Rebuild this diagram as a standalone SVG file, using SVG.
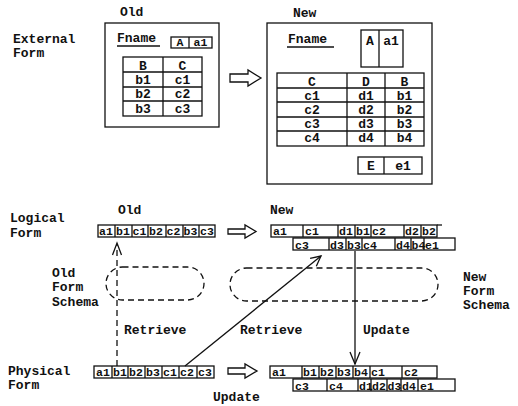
<svg xmlns="http://www.w3.org/2000/svg" width="518" height="406" viewBox="0 0 518 406">
<style>
text{font-family:"Liberation Mono","DejaVu Sans Mono",monospace;font-weight:bold;fill:#111}
.l{font-size:13px}
.r{font-size:11.5px}
.c{text-anchor:middle}
.b{fill:#fff;stroke:#111;stroke-width:1.3}
.ln{stroke:#111;stroke-width:1.3;fill:none}
.d{stroke:#111;stroke-width:1.3;fill:none;stroke-dasharray:6 4}
.h{fill:#fff;stroke:#111;stroke-width:1.3;stroke-linejoin:miter}
</style>
<rect width="518" height="406" fill="#fff"/>

<g id="labels">
<text class="l" x="13" y="43">External</text>
<text class="l" x="13" y="57">Form</text>
<text class="l" x="120" y="16">Old</text>
<text class="l" x="293" y="17">New</text>
<text class="l" x="10" y="222">Logical</text>
<text class="l" x="10" y="237">Form</text>
<text class="l" x="118" y="214">Old</text>
<text class="l" x="270" y="214">New</text>
<text class="l" x="8" y="375">Physical</text>
<text class="l" x="8" y="389">Form</text>
<text class="l" x="52" y="277">Old</text>
<text class="l" x="52" y="291">Form</text>
<text class="l" x="52" y="306">Schema</text>
<text class="l" x="463" y="281">New</text>
<text class="l" x="463" y="295">Form</text>
<text class="l" x="463" y="309">Schema</text>
</g>

<g id="ext-old">
<rect class="b" x="105" y="23" width="114" height="104"/>
<text class="l" x="117" y="42" font-size="14">Fname</text>
<line class="ln" x1="117" y1="46" x2="160" y2="46"/>
<rect class="b" x="171" y="37" width="41" height="11"/>
<line class="ln" x1="189" y1="37" x2="189" y2="48"/>
<text class="r c" x="180" y="46">A</text>
<text class="r c" x="200.5" y="46">a1</text>
<rect class="b" x="123" y="57" width="79" height="59"/>
<path class="ln" d="M163,57V116M123,72H202M123,87H202M123,101H202"/>
<text class="l c" x="143" y="70">B</text><text class="l c" x="182.5" y="70">C</text>
<text class="l c" x="143" y="84">b1</text><text class="l c" x="182.5" y="84">c1</text>
<text class="l c" x="143" y="98">b2</text><text class="l c" x="182.5" y="98">c2</text>
<text class="l c" x="143" y="113">b3</text><text class="l c" x="182.5" y="113">c3</text>
</g>

<g id="ext-new">
<rect class="b" x="267" y="23" width="165" height="161"/>
<text class="l" x="288" y="43" font-size="14">Fname</text>
<line class="ln" x1="287" y1="47" x2="334" y2="47"/>
<rect class="b" x="361" y="30" width="42" height="37"/>
<line class="ln" x1="379" y1="30" x2="379" y2="67"/>
<text class="l c" x="370" y="45">A</text>
<text class="l c" x="391" y="45">a1</text>
<rect class="b" x="277" y="73" width="147" height="73"/>
<path class="ln" d="M347,73V146M385,73V146M277,88H424M277,102H424M277,117H424M277,131H424"/>
<text class="l c" x="312" y="86">C</text><text class="l c" x="366" y="86">D</text><text class="l c" x="404.5" y="86">B</text>
<text class="l c" x="312" y="100">c1</text><text class="l c" x="366" y="100">d1</text><text class="l c" x="404.5" y="100">b1</text>
<text class="l c" x="312" y="114">c2</text><text class="l c" x="366" y="114">d2</text><text class="l c" x="404.5" y="114">b2</text>
<text class="l c" x="312" y="128">c3</text><text class="l c" x="366" y="128">d3</text><text class="l c" x="404.5" y="128">b3</text>
<text class="l c" x="312" y="142">c4</text><text class="l c" x="366" y="142">d4</text><text class="l c" x="404.5" y="142">b4</text>
<rect class="b" x="358" y="157" width="64" height="17"/>
<line class="ln" x1="384" y1="157" x2="384" y2="174"/>
<text class="l c" x="371" y="170">E</text>
<text class="l c" x="403" y="170">e1</text>
</g>

<g id="log-old">
<rect class="b" x="98" y="225" width="117" height="12"/>
<path class="ln" d="M115,225V237M132,225V237M148,225V237M166,225V237M183,225V237M199,225V237"/>
<text class="r" x="99" y="235">a1</text><text class="r" x="116" y="235">b1</text><text class="r" x="132.5" y="235">c1</text>
<text class="r" x="149" y="235">b2</text><text class="r" x="166.5" y="235">c2</text><text class="r" x="183.5" y="235">b3</text>
<text class="r" x="200" y="235">c3</text>
</g>

<g id="log-new">
<rect class="b" x="271" y="225" width="166" height="12"/>
<line class="ln" x1="437" y1="225" x2="442" y2="225"/>
<path class="ln" d="M303,225V237M338,225V237M355,225V237M371,225V237M404,225V237M421,225V237"/>
<text class="r" x="273" y="235">a1</text><text class="r" x="305" y="235">c1</text><text class="r" x="339" y="235">d1</text>
<text class="r" x="356" y="235">b1</text><text class="r" x="372" y="235">c2</text><text class="r" x="405" y="235">d2</text>
<text class="r" x="422" y="235">b2</text>
<rect class="b" x="293" y="238" width="162" height="12"/>
<path class="ln" d="M329,238V250M346,238V250M362,238V250M395,238V250M411,238V250M424,238V250"/>
<text class="r" x="295" y="248.5">c3</text><text class="r" x="330" y="248.5">d3</text><text class="r" x="347" y="248.5">b3</text>
<text class="r" x="363" y="248.5">c4</text><text class="r" x="396" y="248.5">d4</text><text class="r" x="411.5" y="248.5">b4</text>
<text class="r" x="425" y="248.5">e1</text>
</g>

<g id="schema-old">
<rect class="d" x="106" y="267" width="98" height="33" rx="16.5"/>
</g>
<g id="schema-new">
<rect class="d" x="230" y="268" width="208" height="33" rx="16.5"/>
</g>

<g id="phys-old">
<rect class="b" x="94" y="366" width="120" height="12"/>
<path class="ln" d="M112,366V378M128,366V378M145,366V378M162,366V378M179,366V378M197,366V378"/>
<text class="r" x="96" y="376">a1</text><text class="r" x="113" y="376">b1</text><text class="r" x="129" y="376">b2</text>
<text class="r" x="146" y="376">b3</text><text class="r" x="163" y="376">c1</text><text class="r" x="180" y="376">c2</text>
<text class="r" x="198" y="376">c3</text>
</g>

<g id="phys-new">
<rect class="b" x="270" y="366" width="167" height="12"/>
<path class="ln" d="M302,366V378M319,366V378M336,366V378M353,366V378M370,366V378M402,366V378"/>
<text class="r" x="272" y="376">a1</text><text class="r" x="303" y="376">b1</text><text class="r" x="320" y="376">b2</text>
<text class="r" x="337" y="376">b3</text><text class="r" x="354" y="376">b4</text><text class="r" x="371" y="376">c1</text>
<text class="r" x="404" y="376">c2</text>
<rect class="b" x="293" y="379" width="162" height="12"/>
<path class="ln" d="M327,379V391M358,379V391M371,379V391M387,379V391M401,379V391M418,379V391"/>
<text class="r" x="295" y="389.5">c3</text><text class="r" x="329" y="389.5">c4</text><text class="r" x="359" y="389.5">d1</text>
<text class="r" x="372" y="389.5">d2</text><text class="r" x="387.5" y="389.5">d3</text><text class="r" x="402" y="389.5">d4</text>
<text class="r" x="420" y="389.5">e1</text>
</g>

<g id="connectors">
<path class="h" d="M230,74H248V70L261,78L248,86V82H230Z"/>
<path class="h" d="M228,229H245V225L256,231.5L245,238V234H228Z"/>
<path class="h" d="M228,368H245V364L257,371L245,378V374H228Z"/>
<line class="d" x1="117" y1="366" x2="117" y2="245"/>
<polyline class="ln" points="112.5,255 117,243 121.5,255"/>
<line class="ln" x1="185" y1="366" x2="321" y2="256"/>
<polyline class="ln" points="316.3,266.2 321,256 310.1,258.4"/>
<line class="ln" x1="355" y1="251" x2="355" y2="364"/>
<polyline class="ln" points="350,352 355,364 360,352"/>
<text class="l" x="124" y="334">Retrieve</text>
<text class="l" x="240" y="334">Retrieve</text>
<text class="l" x="363" y="334">Update</text>
<text class="l" x="213" y="401">Update</text>
</g>
</svg>
